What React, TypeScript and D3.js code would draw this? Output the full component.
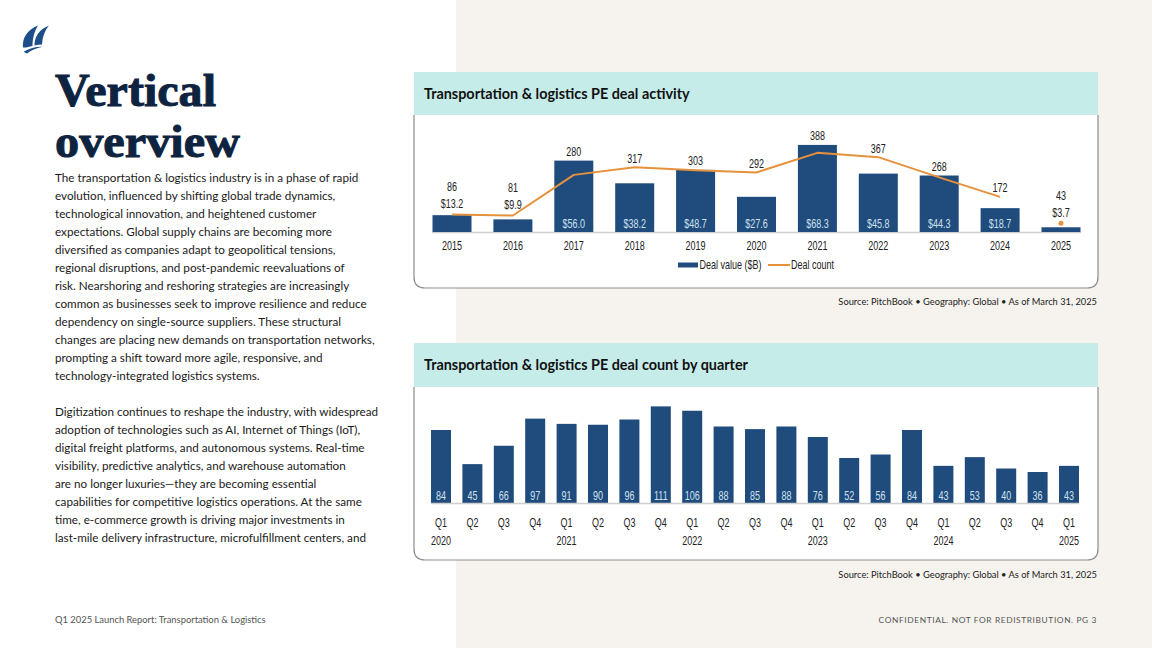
import React from 'react';
import * as d3 from 'd3';

// ---------- data ----------
const years = ['2015', '2016', '2017', '2018', '2019', '2020', '2021', '2022', '2023', '2024', '2025'];
const dealValue = [13.2, 9.9, 56.0, 38.2, 48.7, 27.6, 68.3, 45.8, 44.3, 18.7, 3.7];
const dealCount = [86, 81, 280, 317, 303, 292, 388, 367, 268, 172, 43];
const partialYear = '2025';

const quarterLabels = ['Q1', 'Q2', 'Q3', 'Q4', 'Q1', 'Q2', 'Q3', 'Q4', 'Q1', 'Q2', 'Q3', 'Q4', 'Q1', 'Q2', 'Q3', 'Q4', 'Q1', 'Q2', 'Q3', 'Q4', 'Q1'];
const quarterYears = ['2020', '', '', '', '2021', '', '', '', '2022', '', '', '', '2023', '', '', '', '2024', '', '', '', '2025'];
const quarterCounts = [84, 45, 66, 97, 91, 90, 96, 111, 106, 88, 85, 88, 76, 52, 56, 84, 43, 53, 40, 36, 43];

const para1 = [
  'The transportation & logistics industry is in a phase of rapid',
  'evolution, influenced by shifting global trade dynamics,',
  'technological innovation, and heightened customer',
  'expectations. Global supply chains are becoming more',
  'diversified as companies adapt to geopolitical tensions,',
  'regional disruptions, and post-pandemic reevaluations of',
  'risk. Nearshoring and reshoring strategies are increasingly',
  'common as businesses seek to improve resilience and reduce',
  'dependency on single-source suppliers. These structural',
  'changes are placing new demands on transportation networks,',
  'prompting a shift toward more agile, responsive, and',
  'technology-integrated logistics systems.',
];
const para2 = [
  'Digitization continues to reshape the industry, with widespread',
  'adoption of technologies such as AI, Internet of Things (IoT),',
  'digital freight platforms, and autonomous systems. Real-time',
  'visibility, predictive analytics, and warehouse automation',
  'are no longer luxuries\u2014they are becoming essential',
  'capabilities for competitive logistics operations. At the same',
  'time, e-commerce growth is driving major investments in',
  'last-mile delivery infrastructure, microfulfillment centers, and',
];

const sourceText = 'Source: PitchBook  \u2022  Geography: Global  \u2022  As of March 31, 2025';

// ---------- style ----------
const BAR = '#1f4c7c';
const ORANGE = '#e6913b';
const TEAL = '#c6ecea';
const BEIGE = '#f6f3ee';
const NAVY = '#0e2340';
const BORDER = '#8c8c8c';
const CHART_FONT = "'Liberation Sans', Arial, sans-serif";
const BODY_FONT = "Lato, 'Open Sans', sans-serif";
const INSIDE = '#cfe0f0';
const SQUEEZE = 0.75;

const PX0 = 414;
const PX1 = 1098;

function CT({ x, y, size = 12, fill = '#222', anchor = 'middle', children }: any) {
  return (
    <text
      transform={`translate(${x},${y}) scale(${SQUEEZE},1)`}
      textAnchor={anchor}
      fontSize={size}
      fill={fill}
      fontFamily={CHART_FONT}
    >
      {children}
    </text>
  );
}

function Panel({ y0, y1, y2, title }: { y0: number; y1: number; y2: number; title: string }) {
  const r = 11;
  const d = `M${PX0},${y1} L${PX0},${y2 - r} Q${PX0},${y2} ${PX0 + r},${y2} L${PX1 - r},${y2} Q${PX1},${y2} ${PX1},${y2 - r} L${PX1},${y1}`;
  return (
    <g>
      <path d={d} fill="#ffffff" stroke={BORDER} strokeWidth={1.2} />
      <rect x={PX0} y={y0} width={PX1 - PX0} height={y1 - y0} fill={TEAL} />
      <text x={424} y={(y0 + y1) / 2 + 5} fontFamily={BODY_FONT} fontWeight={700} fontSize={14.4} fill="#111">
        {title}
      </text>
    </g>
  );
}

function TopChart() {
  const base = 232;
  const top = 130;
  const x = d3.scalePoint<string>().domain(years).range([452, 1061]);
  const bw = 39;
  const yV = d3.scaleLinear().domain([0, 80]).range([base, top]);
  const yC = d3.scaleLinear().domain([0, 500]).range([base, top]);
  const full = years.filter((y) => y !== partialYear);
  const line = d3
    .line<string>()
    .x((d) => x(d)!)
    .y((d) => yC(dealCount[years.indexOf(d)]));
  return (
    <g>
      <line x1={432} x2={1081} y1={base + 0.5} y2={base + 0.5} stroke="#cfcfcf" strokeWidth={1.5} />
      {years.map((yr, i) => {
        const cx = x(yr)!;
        const bt = yV(dealValue[i]);
        const lp = yC(dealCount[i]);
        const small = dealValue[i] < 15;
        const topMost = Math.min(bt, lp);
        const valCenter = small ? topMost - 11 : base - 9;
        const cntCenter = small ? valCenter - 17 : topMost - 9;
        return (
          <g key={yr}>
            <rect x={cx - bw / 2} y={bt} width={bw} height={base - bt} fill={BAR} />
            <CT x={cx} y={valCenter + 4.5} fill={small ? '#222' : INSIDE}>
              {'$' + dealValue[i].toFixed(1)}
            </CT>
            <CT x={cx} y={cntCenter + 4.5}>{dealCount[i]}</CT>
            <CT x={cx} y={250}>{yr}</CT>
          </g>
        );
      })}
      <path d={line(full)!} fill="none" stroke={ORANGE} strokeWidth={2} strokeLinejoin="round" />
      <circle cx={x(partialYear)!} cy={yC(dealCount[years.indexOf(partialYear)])} r={2.5} fill={ORANGE} />
      {/* legend */}
      <rect x={678} y={262.5} width={20} height={5} fill={BAR} />
      <CT x={699.5} y={269} size={12} anchor="start">Deal value ($B)</CT>
      <line x1={768} x2={790} y1={265} y2={265} stroke={ORANGE} strokeWidth={2} />
      <CT x={791} y={269} size={12} anchor="start">Deal count</CT>
    </g>
  );
}

function BottomChart() {
  const base = 503.5;
  const x = d3.scalePoint<number>().domain(d3.range(quarterCounts.length)).range([441, 1069]);
  const bw = 20;
  const y = d3.scaleLinear().domain([0, 120]).range([base, base - 105]);
  return (
    <g>
      {quarterCounts.map((v, i) => {
        const cx = x(i)!;
        return (
          <g key={i}>
            <rect x={cx - bw / 2} y={y(v)} width={bw} height={base - y(v)} fill={BAR} />
            <CT x={cx} y={499.5} fill={INSIDE}>{v}</CT>
            <CT x={cx} y={527}>{quarterLabels[i]}</CT>
            {quarterYears[i] && <CT x={cx} y={544.5}>{quarterYears[i]}</CT>}
          </g>
        );
      })}
      <line x1={431} x2={1079} y1={base} y2={base} stroke="#cfcfcf" strokeWidth={1.5} />
    </g>
  );
}

export default function App() {
  return (
    <svg
      width={1152}
      height={648}
      viewBox="0 0 1152 648"
      style={{ position: 'absolute', left: 0, top: 0, display: 'block' }}
    >
      <rect x={0} y={0} width={1152} height={648} fill="#ffffff" />
      <rect x={456} y={0} width={696} height={648} fill={BEIGE} />

      {/* logo */}
      <g fill="#1d4e89">
        <path d="M23,47.5 C22,38 27,30 38,25.5 C34.5,31 32.5,38.5 32.5,46 C29,46.5 26,48 23,47.5 Z" />
        <path d="M34.5,45.5 C34.5,37 39,29.5 49,25.5 C44.5,31 42.5,37.5 42,44.5 C39.5,44.5 37,44.8 34.5,45.5 Z" />
        <path d="M24,51.5 C30,48 36,46.5 42.5,46.8 C36,48.3 31,50.3 27,53.5 C25.5,53 24.5,52.5 24,51.5 Z" />
      </g>

      {/* title */}
      <g fontFamily="'Liberation Serif', 'DejaVu Serif', serif" fontWeight={700} fill={NAVY} stroke={NAVY} strokeWidth={1}>
        <text x={55} y={106} fontSize={47} textLength={161} lengthAdjust="spacingAndGlyphs">Vertical</text>
        <text x={55} y={156.5} fontSize={47} textLength={185} lengthAdjust="spacingAndGlyphs">overview</text>
      </g>

      {/* body */}
      <g fontFamily={BODY_FONT} fontSize={11.7} fill="#1a1a1a">
        {para1.map((t, i) => (
          <text key={'a' + i} x={55} y={182 + i * 18}>{t}</text>
        ))}
        {para2.map((t, i) => (
          <text key={'b' + i} x={55} y={416 + i * 18}>{t}</text>
        ))}
      </g>

      <Panel y0={72} y1={115} y2={288} title="Transportation & logistics PE deal activity" />
      <TopChart />
      <text x={1097} y={305} textAnchor="end" fontFamily={BODY_FONT} fontSize={9.3} fill="#222">{sourceText}</text>

      <Panel y0={343} y1={387} y2={560} title="Transportation & logistics PE deal count by quarter" />
      <BottomChart />
      <text x={1097} y={578} textAnchor="end" fontFamily={BODY_FONT} fontSize={9.3} fill="#222">{sourceText}</text>

      {/* footer */}
      <text x={55} y={623} fontFamily={BODY_FONT} fontSize={9.4} fill="#555">Q1 2025 Launch Report: Transportation &amp; Logistics</text>
      <text x={1097} y={623} textAnchor="end" fontFamily={BODY_FONT} fontSize={8.4} fill="#555" letterSpacing={0.6}>
        CONFIDENTIAL. NOT FOR REDISTRIBUTION.  PG 3
      </text>
    </svg>
  );
}
